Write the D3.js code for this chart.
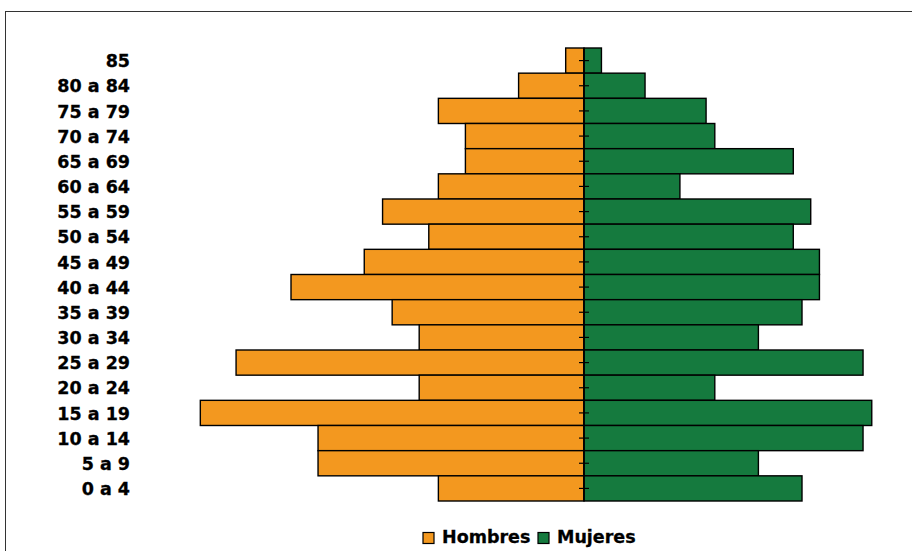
<!DOCTYPE html>
<meta charset="utf-8">
<style>
  body { margin: 0; background-color: #fff; }
  text { font-family: "DejaVu Sans", sans-serif; font-weight: bold; fill: #000; }
</style>
<body>
<svg width="912" height="551"></svg>
<script src="https://d3js.org/d3.v7.min.js"></script>
<script>

// age groups, top of the pyramid first
var ages = ["85", "80 a 84", "75 a 79", "70 a 74", "65 a 69", "60 a 64", "55 a 59",
            "50 a 54", "45 a 49", "40 a 44", "35 a 39", "30 a 34", "25 a 29",
            "20 a 24", "15 a 19", "10 a 14", "5 a 9", "0 a 4"];

var hombres = [2.1, 7.5, 16.7, 13.6, 13.6, 16.7, 23.1, 17.8, 25.2, 33.6,
               22.0, 18.9, 39.9, 18.9, 44.0, 30.5, 30.5, 16.7];

var mujeres = [2, 7, 14, 15, 24, 11, 26, 24, 27, 27,
               25, 20, 32, 15, 33, 32, 20, 25];

var seriesNames = ["Hombres", "Mujeres"];
var colors = ["#F3981F", "#157A3E"];

var svg = d3.select("svg");

// outer frame
svg.append("rect")
    .attr("x", 5.5).attr("y", 11.5)
    .attr("width", 930).attr("height", 560)
    .attr("fill", "none")
    .attr("stroke", "#333")
    .attr("stroke-width", 1);

var cx = 584, unit = 8.72, maxV = 45;

var x = d3.scaleLinear()
    .domain([-maxV, maxV])
    .range([cx - maxV * unit, cx + maxV * unit]);

var y = d3.scaleBand()
    .domain(ages)
    .range([48, 501])
    .padding(0);

var rows = ages.map(function(a, i) { return { age: a, h: hombres[i], m: mujeres[i] }; });

var bars = svg.append("g").attr("class", "bars");

bars.selectAll("rect.h")
  .data(rows)
  .enter().append("rect")
    .attr("class", "h")
    .attr("x", d => x(-d.h))
    .attr("y", d => y(d.age))
    .attr("width", d => x(0) - x(-d.h))
    .attr("height", y.bandwidth())
    .attr("fill", colors[0])
    .attr("stroke", "#000")
    .attr("stroke-width", 1.4);

bars.selectAll("rect.m")
  .data(rows)
  .enter().append("rect")
    .attr("class", "m")
    .attr("x", x(0))
    .attr("y", d => y(d.age))
    .attr("width", d => x(d.m) - x(0))
    .attr("height", y.bandwidth())
    .attr("fill", colors[1])
    .attr("stroke", "#000")
    .attr("stroke-width", 1.4);

// centre axis with ticks crossing it
var axisG = svg.append("g")
    .attr("transform", "translate(" + (x(0) + 5) + ",0)")
    .call(d3.axisLeft(y).tickSizeInner(10).tickSizeOuter(0).tickFormat(""));
axisG.select(".domain").remove();
axisG.selectAll(".tick line").attr("stroke", "#000").attr("stroke-width", 1.2);

svg.append("line")
    .attr("x1", x(0)).attr("x2", x(0))
    .attr("y1", y.range()[0]).attr("y2", y.range()[1])
    .attr("stroke", "#000")
    .attr("stroke-width", 1.6);

// age labels
var labels = svg.append("g")
    .attr("transform", "translate(130,1)")
    .call(d3.axisLeft(y).tickSize(0).tickPadding(0));
labels.select(".domain").remove();
labels.selectAll("text")
    .attr("font-family", "DejaVu Sans, sans-serif")
    .attr("font-weight", "bold")
    .attr("font-size", 17.5)
    .attr("fill", "#000")
    .attr("stroke", "#000")
    .attr("stroke-width", 0.3);

// legend
var legendX = [423, 538];
var legend = svg.append("g").attr("class", "legend");
seriesNames.forEach(function(name, i) {
  legend.append("rect")
      .attr("x", legendX[i]).attr("y", 532.5)
      .attr("width", 11).attr("height", 11)
      .attr("fill", colors[i])
      .attr("stroke", "#000")
      .attr("stroke-width", 1.2);
  legend.append("text")
      .attr("x", legendX[i] + 19)
      .attr("y", 543)
      .attr("font-size", 17.5)
      .attr("stroke", "#000")
      .attr("stroke-width", 0.3)
      .text(name);
});

</script>
